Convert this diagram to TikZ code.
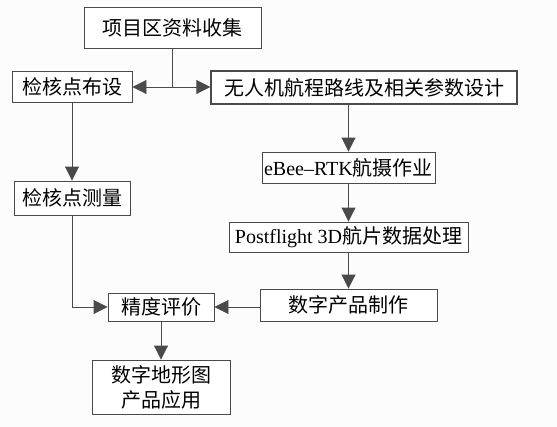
\documentclass[tikz,border=0pt]{standalone}
\usepackage{fontspec}
\setmainfont{Liberation Serif}
\newfontfamily\cjk{Noto Sans CJK SC}
\usetikzlibrary{arrows.meta}
\definecolor{ln}{HTML}{4A4A4A}
\definecolor{bg}{HTML}{FCFCFC}
\tikzset{
  box/.style={draw=ln, line width=0.9pt, fill=white, inner sep=0pt, align=center, font=\fontsize{20}{24}\selectfont\cjk, text=black},
  arr/.style={draw=ln, line width=0.9pt, -{Triangle[length=14pt,width=14pt]}},
  ln/.style={draw=ln, line width=0.9pt}
}
\begin{document}
\begin{tikzpicture}[x=1pt,y=-1pt]
\fill[bg] (0,0) rectangle (557,426);
\useasboundingbox (0,0) rectangle (557,426);
\node[box, minimum width=177pt, minimum height=41pt] (b1) at (172.5,27.5) {项目区资料收集};
\node[box, minimum width=120pt, minimum height=31pt] (b2) at (72,86.5) {检核点布设};
\node[box, line width=1.4pt, minimum width=306pt, minimum height=33pt] (b3) at (364,87.5) {无人机航程路线及相关参数设计};
\node[box, minimum width=173pt, minimum height=31pt] (b4) at (348.5,167.5) {{\rmfamily eBee–RTK}航摄作业};
\node[box, minimum width=116pt, minimum height=34pt] (b5) at (72,198) {检核点测量};
\node[box, minimum width=239pt, minimum height=30pt] (b6) at (348.5,237) {{\rmfamily Postflight 3D}航片数据处理};
\node[box, minimum width=177pt, minimum height=32pt] (b7) at (348.5,305) {数字产品制作};
\node[box, minimum width=106pt, minimum height=28pt] (b8) at (161,307) {精度评价};
\node[box, minimum width=138pt, minimum height=54pt, font=\fontsize{20}{25}\selectfont\cjk] (b9) at (161,387) {数字地形图\\产品应用};
\coordinate (j) at (172,87);
\draw[ln] (b1.south -| j) -- (j);
\draw[arr] (j) -- (b2.east |- j);
\draw[arr] (j) -- (b3.west |- j);
\draw[arr] (b3.south -| b4.north) -- (b4.north);
\draw[arr] (b4) -- (b6);
\draw[arr] (b6) -- (b7);
\draw[arr] (b2) -- (b5);
\draw[arr] (b5.south) |- (b8.west);
\draw[arr] (b8.east -| b7.west) -- (b8.east);
\draw[arr] (b8) -- (b9);
\end{tikzpicture}
\end{document}
